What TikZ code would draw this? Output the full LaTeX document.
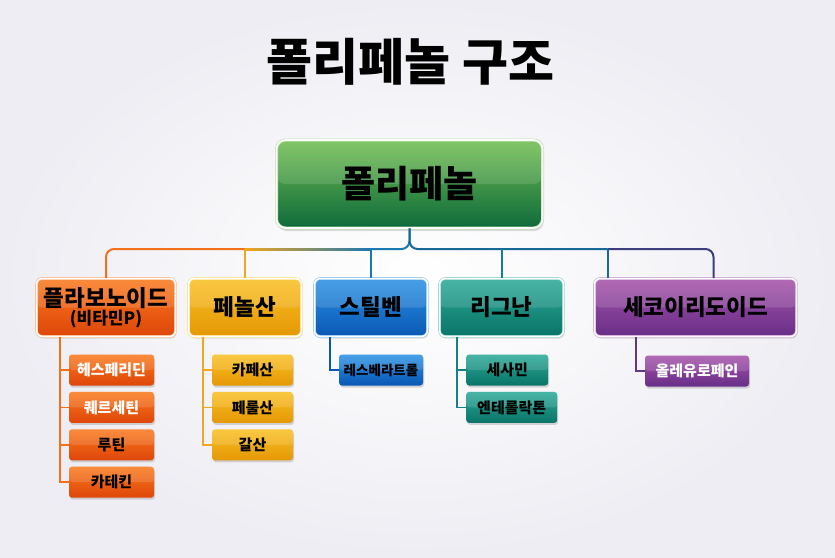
\documentclass[tikz,border=0pt]{standalone}
\usepackage{fontspec}
\newfontfamily\kr{Noto Sans CJK KR}
\newfontfamily\krblack{Noto Sans CJK KR Black}
\usepackage{tikz}
\usetikzlibrary{positioning, shadows}

\definecolor{bgEdge}{RGB}{238,237,243}
\definecolor{rootT}{RGB}{112,190,80}
\definecolor{rootB}{RGB}{14,106,60}
\definecolor{flavT}{RGB}{250,122,30}
\definecolor{flavB}{RGB}{222,70,10}
\definecolor{phenT}{RGB}{250,192,36}
\definecolor{phenB}{RGB}{228,152,6}
\definecolor{stilT}{RGB}{44,146,228}
\definecolor{stilB}{RGB}{10,88,180}
\definecolor{ligT}{RGB}{44,170,152}
\definecolor{ligB}{RGB}{10,116,104}
\definecolor{secoT}{RGB}{166,84,170}
\definecolor{secoB}{RGB}{104,46,136}
\definecolor{flavL}{RGB}{242,112,28}
\definecolor{phenL}{RGB}{240,166,30}
\definecolor{midL}{RGB}{222,196,40}
\definecolor{stilL}{RGB}{28,120,176}
\definecolor{ligL}{RGB}{20,128,140}
\definecolor{rightL}{RGB}{24,104,150}
\definecolor{secoL}{RGB}{60,62,126}
\definecolor{secoBr}{RGB}{96,58,136}

\begin{document}
\begin{tikzpicture}[x=1pt, y=-1pt,
    gloss/.style={path picture={\fill[white, opacity=.13]
      (path picture bounding box.north west) rectangle (path picture bounding box.east);}},
    rootbox/.style={rounded corners=9pt, top color=rootT, bottom color=rootB,
      draw=rootT!45!white, double=white, double distance=1.6pt, line width=.7pt,
      gloss, drop shadow={opacity=.25, shadow xshift=1pt, shadow yshift=-3pt},
      font=\krblack\fontsize{37}{40}\selectfont},
    catbox/.style={rounded corners=6pt, top color=#1T, bottom color=#1B,
      draw=#1T!50!white, double=white, double distance=1.5pt, line width=.6pt,
      gloss, drop shadow={opacity=.25, shadow xshift=1pt, shadow yshift=-2pt},
      minimum height=58pt, font=\krblack\fontsize{22.5}{24}\selectfont},
    leaf/.style={rounded corners=3pt, top color=#1T, bottom color=#1B,
      gloss, drop shadow={opacity=.3, shadow xshift=1pt, shadow yshift=-2pt},
      minimum height=31pt, inner xsep=2pt, font=\krblack\fontsize{15}{17}\selectfont},
    bus/.style={line width=2pt, rounded corners=8pt},
    branch/.style={line width=1.8pt},
    node distance=6pt
  ]
  % Background
  \useasboundingbox (0,0) rectangle (835,557);
  \shade[inner color=white, outer color=bgEdge] (0,0) rectangle (835,557);

  % Title
  \node[font=\krblack\fontsize{50}{54}\selectfont] (title) at (410.5,62) {폴리페놀 구조};

  % Root
  \node[rootbox, minimum width=266pt, minimum height=88pt] (root) at (409.5,184) {폴리페놀};

  % Categories
  \node[catbox=flav, minimum width=139pt, align=center] (flav) at (106,307.5)
    {플라보노이드\\[-6pt]{\fontsize{17}{18}\selectfont(비타민P)}};
  \node[catbox=phen, minimum width=113pt] (phen) at (245,307.5) {페놀산};
  \node[catbox=stil, minimum width=113pt] (stil) at (371,307.5) {스틸벤};
  \node[catbox=lig, minimum width=124pt] (lig) at (501.5,307.5) {리그난};
  \node[catbox=seco, minimum width=202pt] (seco) at (695.5,307.5) {세코이리도이드};

  % Bus from root to categories
  \coordinate (bus) at (409,249);
  \draw[bus, stilL] (root.south) |- (stil.north |- bus);
  \draw[bus, rightL] (root.south) |- ([xshift=-88pt]seco.north |- bus);
  \draw[bus, flavL] (flav.north) |- (phen.north |- bus);
  \shade[left color=phenL, middle color=midL, right color=stilL]
    ([yshift=-1pt]phen.north |- bus) rectangle ([yshift=1pt]stil.north |- bus);
  \draw[bus, secoL] ([xshift=-88pt]seco.north |- bus) -| ([xshift=18pt]seco.north);
  \draw[bus, phenL] (phen.north) -- (phen.north |- bus);
  \draw[bus, stilL] (stil.north) -- (stil.north |- bus);
  \draw[bus, ligL] (lig.north) -- (lig.north |- bus);
  \draw[bus, rightL] ([xshift=-88pt]seco.north) -- ([xshift=-88pt]seco.north |- bus);

  % Flavonoid leaves
  \node[leaf=flav, minimum width=85pt, text=white] (f1) at (111.5,370) {헤스페리딘};
  \node[leaf=flav, minimum width=85pt, text=white, below=of f1] (f2) {퀘르세틴};
  \node[leaf=flav, minimum width=85pt, below=of f2] (f3) {루틴};
  \node[leaf=flav, minimum width=85pt, below=of f3] (f4) {카테킨};

  % Phenolic acid leaves
  \node[leaf=phen, minimum width=81pt] (p1) at (252.5,370) {카페산};
  \node[leaf=phen, minimum width=81pt, below=of p1] (p2) {페룰산};
  \node[leaf=phen, minimum width=81pt, below=of p2] (p3) {갈산};

  % Stilbene, lignan, secoiridoid leaves
  \node[leaf=stil, minimum width=84pt, inner xsep=1pt,
    font=\krblack\fontsize{13.5}{15}\selectfont] (s1) at (381,370) {레스베라트롤};
  \node[leaf=lig, minimum width=82pt, anchor=west] (l1) at (466,370) {세사민};
  \node[leaf=lig, minimum width=91pt, below=of l1.south west, anchor=north west] (l2) {엔테롤락톤};
  \node[leaf=seco, minimum width=104pt, text=white] (o1) at (697,371) {올레유로페인};

  % Branches to leaves
  \draw[branch, flavL] ([xshift=-46pt]flav.south) |- (f4.west);
  \foreach \n in {f1,f2,f3}
    \draw[branch, flavL] ([xshift=-46pt]flav.south |- \n.west) -- (\n.west);
  \draw[branch, phenL] ([xshift=-42pt]phen.south) |- (p3.west);
  \foreach \n in {p1,p2}
    \draw[branch, phenL] ([xshift=-42pt]phen.south |- \n.west) -- (\n.west);
  \draw[branch, stilB] ([xshift=-41pt]stil.south) |- (s1.west);
  \draw[branch, ligL] ([xshift=-44.5pt]lig.south) |- (l2.west);
  \draw[branch, ligL] ([xshift=-44.5pt]lig.south |- l1.west) -- (l1.west);
  \draw[branch, secoBr] ([xshift=-59.5pt]seco.south) |- (o1.west);
\end{tikzpicture}
\end{document}
